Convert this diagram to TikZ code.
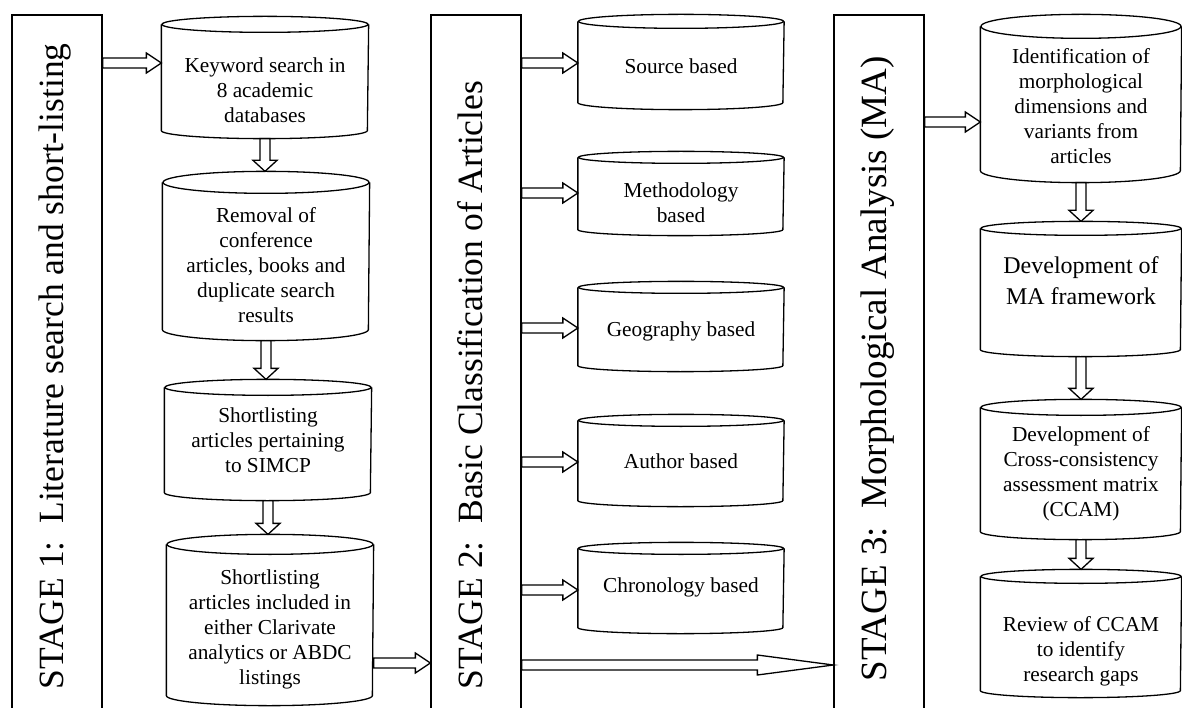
\documentclass[tikz,border=0pt]{standalone}
\usepackage{fontspec}
\setmainfont{Liberation Serif}
\usetikzlibrary{calc}

% can-shaped box: [style] name, x, top, sides end, width, ry, text y, text
\newcommand{\disk}[9][]{%
    \node[diskbody, minimum width=#6, minimum height={#5+#7-#4}] (#2) at (#3,{-(#4+#5+#7)/2}) {};
    \draw ([yshift=-#7]#2.north) ellipse [x radius=#6/2, y radius=#7];
    \draw ([yshift=-#7]#2.north west) -- ([yshift=#7]#2.south west)
        arc [start angle=180, end angle=360, x radius=#6/2, y radius=#7] -- ([yshift=-#7]#2.north east);
    \node[disktext, #1] (#2-t) at (#3,-#8) {#9};
}
% hollow block arrows
\newcommand{\harrow}[3][15]{%
    \draw[blockarrow] let \p1=(#2), \p2=(#3) in
        (\x1,{\y1+5pt}) -- ({\x2-#1pt},{\y1+5pt}) -- ({\x2-#1pt},{\y1+10pt}) -- (\x2,\y1)
        -- ({\x2-#1pt},{\y1-10pt}) -- ({\x2-#1pt},{\y1-5pt}) -- (\x1,{\y1-5pt}) -- cycle;
}
\newcommand{\varrow}[2]{%
    \draw[blockarrow] let \p1=(#1), \p2=(#2) in
        ({\x1-5pt},\y1) -- ({\x1-5pt},{\y2+11pt}) -- ({\x1-12pt},{\y2+11pt}) -- (\x1,\y2)
        -- ({\x1+12pt},{\y2+11pt}) -- ({\x1+5pt},{\y2+11pt}) -- ({\x1+5pt},\y1) -- cycle;
}

\begin{document}
\begin{tikzpicture}[x=1pt, y=1pt, line width=1.3pt,
    stagebox/.style={draw, minimum width=90, minimum height=710, inner sep=0},
    stagetext/.style={rotate=90, anchor=base west, inner sep=0, font=\fontsize{35.5}{40}\selectfont},
    diskbody/.style={inner sep=0},
    disktext/.style={align=center, inner sep=0, font=\fontsize{21.3}{25}\selectfont},
    big/.style={font=\fontsize{24}{31}\selectfont},
    blockarrow/.style={draw, fill=white, line join=miter}]
    \useasboundingbox (0,0) rectangle (1182,-708);
    \clip (0,0) rectangle (1182,-708);

    % stages
    \node[stagebox] (s1) at (57,-370) {};
    \node[stagebox] (s2) at (476,-370) {};
    \node[stagebox] (s3) at (879,-370) {};
    \node[stagetext] (s1-t) at (63,-690) {STAGE 1:\ \ Literature search and short-listing};
    \node[stagetext] (s2-t) at (482,-690) {STAGE 2:\ \ Basic Classification of Articles};
    \node[stagetext, font=\fontsize{37}{42}\selectfont] (s3-t) at (886,-682) {STAGE 3:\ \ Morphological Analysis (MA)};

    % stage 1
    \disk{kw}{265}{17}{130}{206}{8}{90}{Keyword search in\\8 academic\\databases}
    \disk{rm}{266}{172}{329}{206}{11}{265}{Removal of\\conference\\articles, books and\\duplicate search\\results}
    \disk{sl}{268}{380}{492}{206}{8}{440}{Shortlisting\\articles pertaining\\to SIMCP}
    \disk{cl}{270}{535}{695}{206}{10}{629}{Shortlisting\\articles included in\\either Clarivate\\analytics or ABDC\\listings}

    % stage 2
    \disk{src}{681}{15}{102}{205}{7}{66}{Source based}
    \disk{meth}{681}{152}{229}{205}{6}{203}{Methodology\\based}
    \disk{geo}{681}{282}{365}{205}{6}{331}{Geography based}
    \disk{auth}{681}{415}{500}{205}{6}{461}{Author based}
    \disk{chr}{681}{543}{627}{205}{6}{587}{Chronology based}

    % stage 3
    \disk{id}{1081}{15}{170}{200}{12}{106}{Identification of\\morphological\\dimensions and\\variants from\\articles}
    \disk[big]{dev}{1081}{222}{349}{200}{7}{281}{Development of\\MA framework}
    \disk{ccam}{1081}{400}{531}{200}{8}{474}{Development of\\Cross-consistency\\assessment matrix\\(CCAM)}
    \disk{rev}{1081}{570}{690}{200}{7}{651}{Review of CCAM\\to identify\\research gaps}

    % arrows
    \harrow{s1.east |- 0,-63}{kw.west}
    \varrow{kw.south}{rm.north}
    \varrow{rm.south}{sl.north}
    \varrow{sl.south}{cl.north}
    \harrow{cl.east |- 0,-663}{s2.west}
    \foreach \dk/\ya in {src/63, meth/193, geo/328, auth/462, chr/590}
        \harrow{s2.east |- 0,-\ya}{\dk.west};
    \harrow[76]{s2.east |- 0,-665}{s3.west}
    \harrow{s3.east |- 0,-122}{id.west}
    \varrow{id.south}{dev.north}
    \varrow{dev.south}{ccam.north}
    \varrow{ccam.south}{rev.north}
\end{tikzpicture}
\end{document}
